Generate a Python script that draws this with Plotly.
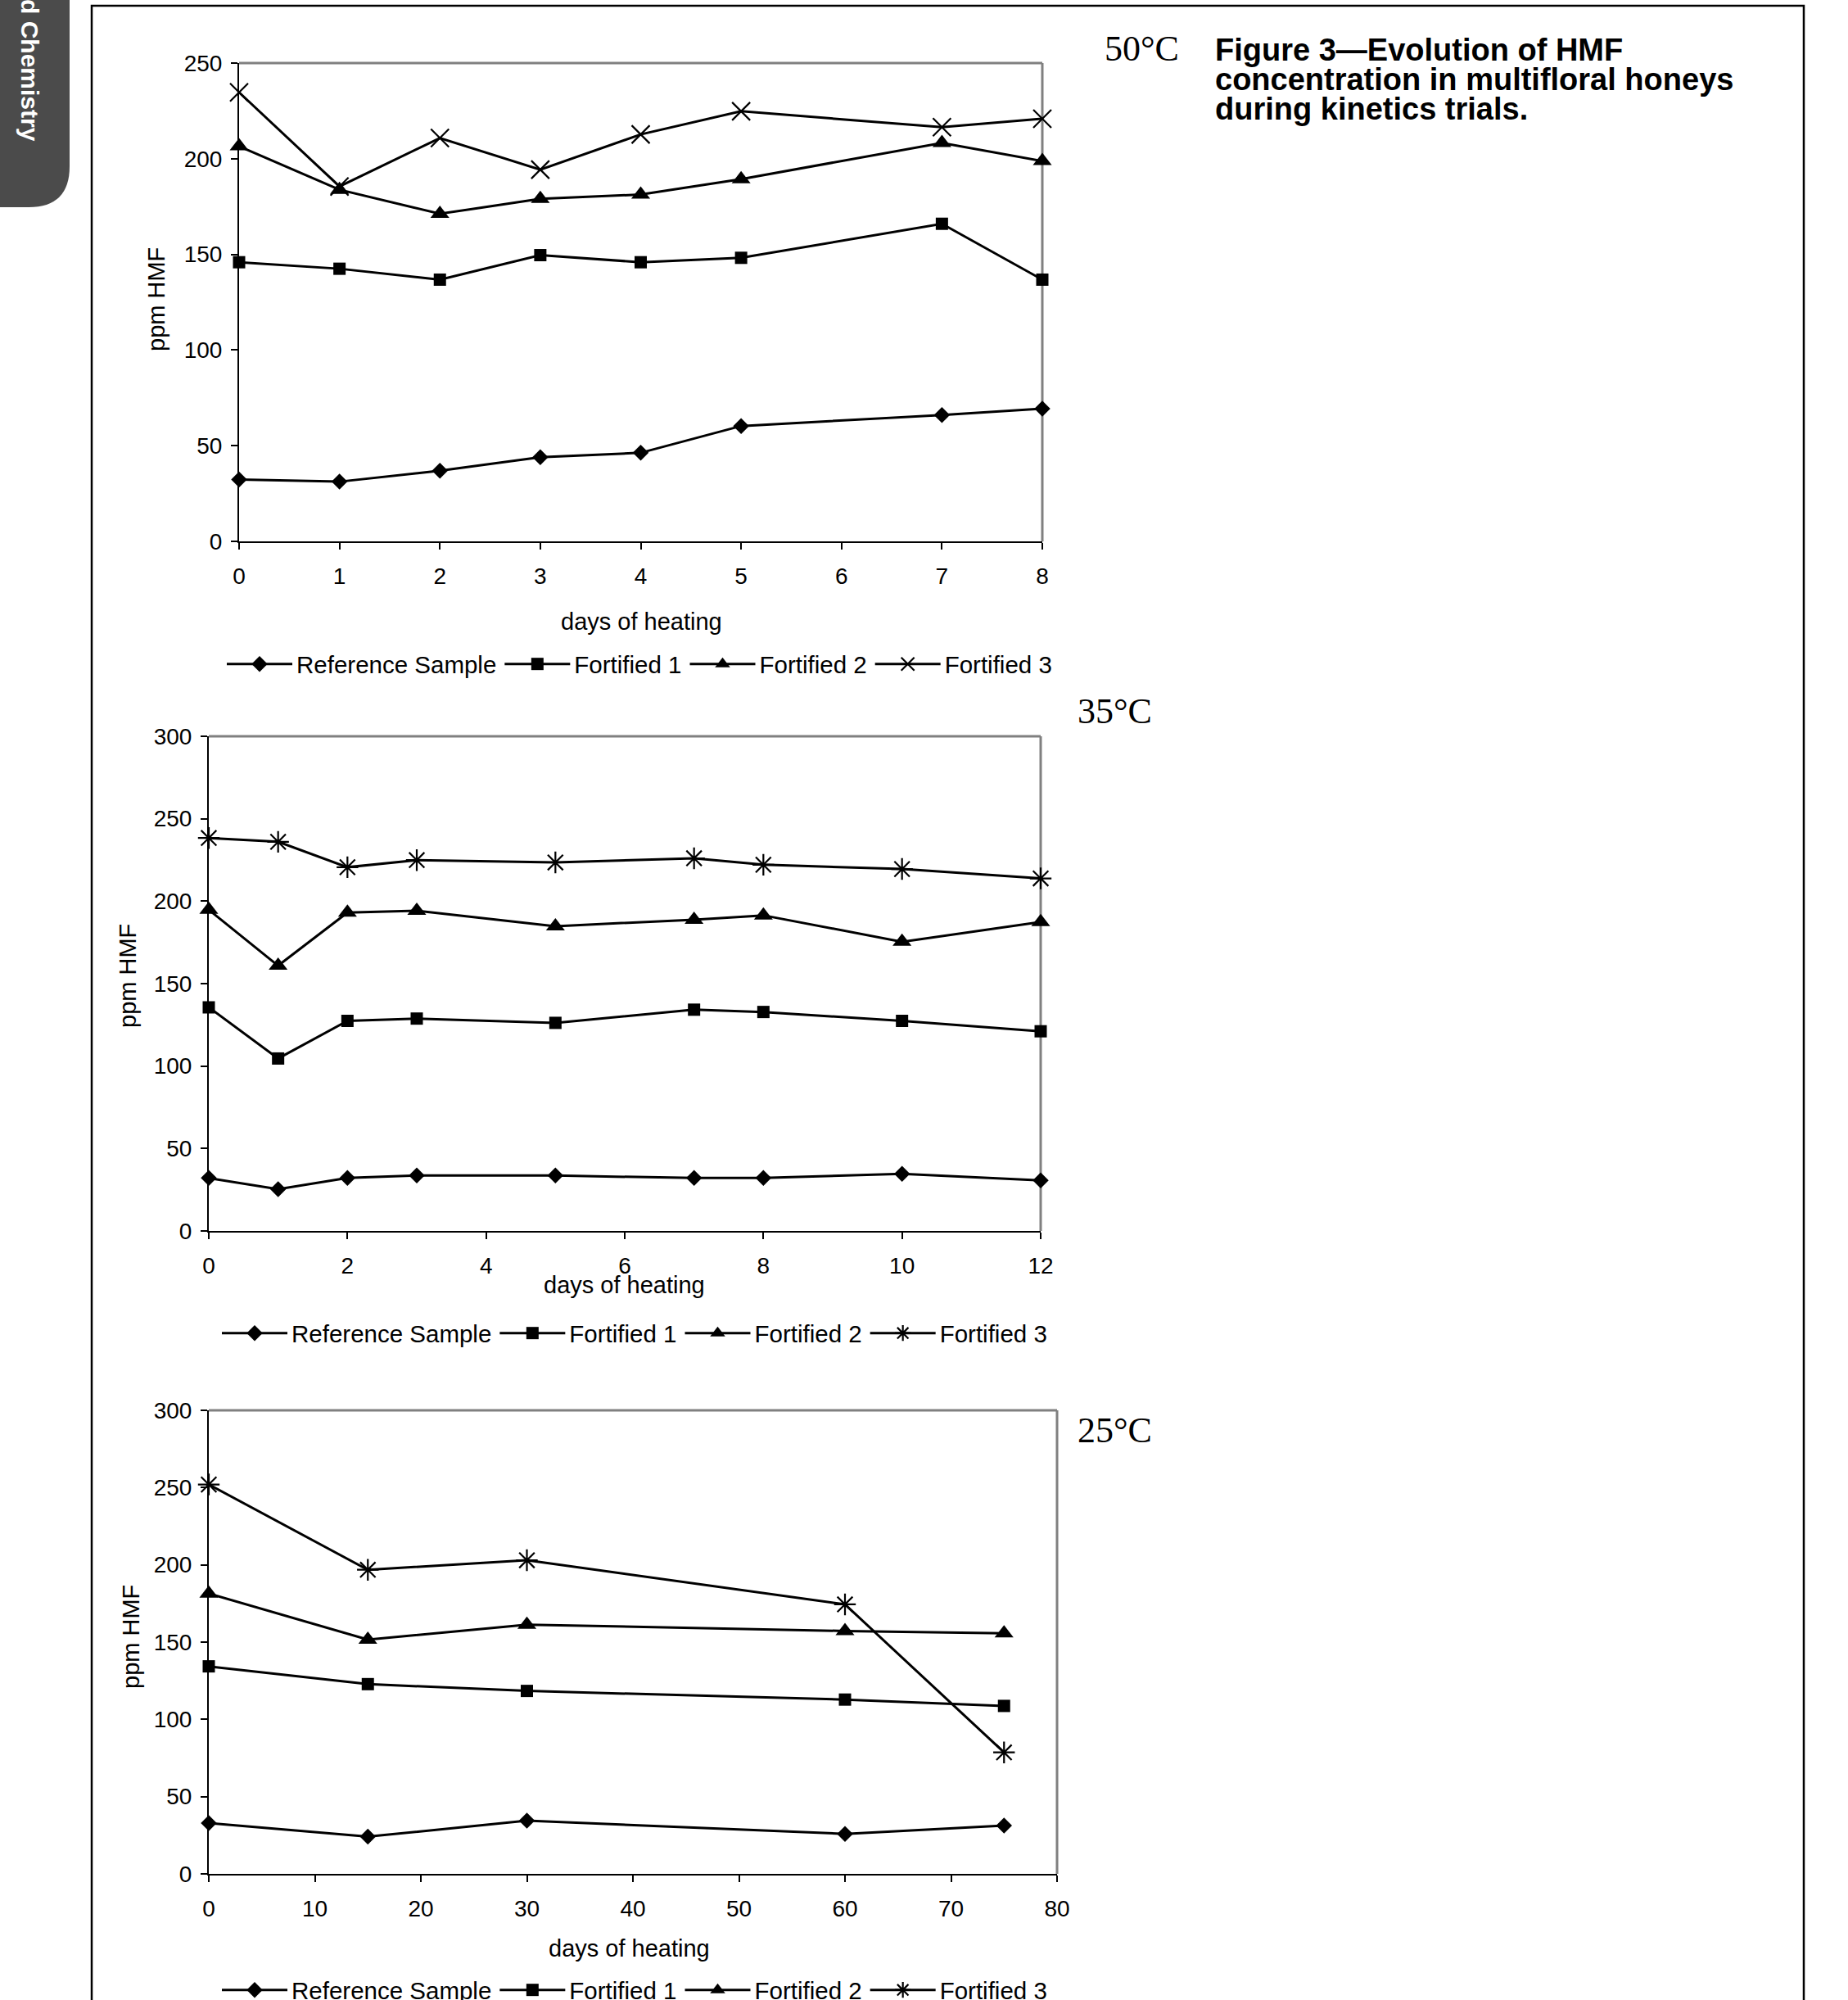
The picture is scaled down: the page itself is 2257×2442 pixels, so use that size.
import plotly.graph_objects as go

W, H = 2257, 2442

# ---------------- data ----------------
series_names = ["Reference Sample", "Fortified 1", "Fortified 2", "Fortified 3"]

days_50 = [0, 1, 2, 3, 4, 5, 7, 8]
ref_50 = [32.3, 31.2, 36.9, 44.0, 46.3, 60.3, 66.0, 69.4]
f1_50 = [145.9, 142.5, 136.8, 149.6, 145.9, 148.2, 166.0, 136.8]
f2_50 = [206.5, 183.8, 171.2, 179.0, 181.3, 189.3, 208.3, 198.8]
f3_50 = [234.7, 185.5, 210.8, 194.3, 212.7, 224.8, 216.5, 220.9]

days_35 = [0, 1, 2, 3, 5, 7, 8, 10, 12]
ref_35 = [32.1, 25.3, 32.1, 33.6, 33.6, 32.1, 32.1, 34.7, 30.7]
f1_35 = [135.6, 104.6, 127.4, 128.8, 126.2, 134.2, 132.8, 127.4, 121.1]
f2_35 = [194.8, 160.9, 193.1, 194.2, 184.8, 188.8, 191.4, 175.4, 187.4]
f3_35 = [238.3, 236.0, 220.6, 224.9, 223.5, 226.0, 222.1, 219.5, 213.8]

days_25 = [0, 15, 30, 60, 75]
ref_25 = [32.9, 24.1, 34.4, 25.9, 31.3]
f1_25 = [134.3, 122.8, 118.4, 112.8, 108.7]
f2_25 = [181.4, 151.6, 161.3, 157.2, 155.7]
f3_25 = [252.0, 196.8, 203.0, 174.4, 78.6]

temperatures = ["50°C", "35°C", "25°C"]
x_title = "days of heating"
y_title = "ppm HMF"
caption_lines = ["Figure 3\u2014Evolution of HMF",
                 "concentration in multifloral honeys",
                 "during kinetics trials."]
tab_text = "d Chemistry"

# ---------------- layout helpers ----------------
FONT = "Liberation Sans, Arial, Helvetica, sans-serif"
SERIF = "Liberation Serif, Times New Roman, serif"


def fx(p):
    return p / W


def fy(p):
    return 1 - p / H


panels = [
    dict(days=days_50, vals=[ref_50, f1_50, f2_50, f3_50], box=(292, 1273, 77, 661),
         xr=[0, 8], xd=1, yr=[0, 250], x3="x-thin-open", x3size=22,
         leg=(272, 811), xt=(783, 759), yt=(191, 366), temp=(1394, 59)),
    dict(days=days_35, vals=[ref_35, f1_35, f2_35, f3_35], box=(255, 1271, 899, 1503),
         xr=[0, 12], xd=2, yr=[0, 300], x3="asterisk-open", x3size=22,
         leg=(266, 1628), xt=(762, 1569), yt=(156, 1192), temp=(1361, 869)),
    dict(days=days_25, vals=[ref_25, f1_25, f2_25, f3_25], box=(255, 1291, 1722, 2288),
         xr=[0, 80], xd=10, yr=[0, 300], x3="asterisk-open", x3size=22,
         leg=(266, 2430), xt=(768, 2379), yt=(160, 1999), temp=(1361, 1746)),
]

fig = go.Figure()
shapes = []
annotations = []
layout_extra = {}

for i, p in enumerate(panels):
    n = "" if i == 0 else str(i + 1)
    leg = "legend" if i == 0 else f"legend{i + 1}"
    x0, x1, y0, y1 = p["box"]
    symbols = ["diamond", "square", "triangle-up", p["x3"]]
    sizes = [15, 15, 20, p["x3size"]]
    for k in range(4):
        open_sym = symbols[k].endswith("open")
        fig.add_trace(go.Scatter(
            x=p["days"], y=p["vals"][k], name=series_names[k],
            mode="lines+markers", xaxis="x" + n, yaxis="y" + n, legend=leg,
            cliponaxis=False,
            line=dict(color="black", width=3),
            marker=dict(symbol=symbols[k], size=sizes[k], color="black",
                        line=dict(color="black", width=2.2 if open_sym else 0)),
        ))
    axis_common = dict(showline=True, linecolor="black", linewidth=2,
                       ticks="outside", ticklen=8, tickwidth=2, tickcolor="black",
                       showgrid=False, zeroline=False, layer="below traces",
                       tickfont=dict(family=FONT, size=28, color="black"))
    layout_extra["xaxis" + n] = dict(
        axis_common, domain=[fx(x0), fx(x1)], range=p["xr"], tick0=0, dtick=p["xd"],
        anchor="y" + n, fixedrange=True, ticklabelstandoff=8)
    layout_extra["yaxis" + n] = dict(
        axis_common, domain=[fy(y1), fy(y0)], range=p["yr"], tick0=0, dtick=50,
        anchor="x" + n, fixedrange=True, ticklabelstandoff=5)
    layout_extra[leg] = dict(
        orientation="h", x=fx(p["leg"][0]), y=fy(p["leg"][1]), xanchor="left",
        yanchor="middle", font=dict(family=FONT, size=29.5, color="black"),
        itemwidth=80, bgcolor="rgba(0,0,0,0)", borderwidth=0, traceorder="normal")
    # grey top / right border of the plot area
    for (a0, b0, a1, b1) in [(0, 1, 1, 1), (1, 0, 1, 1)]:
        shapes.append(dict(type="line", xref=f"x{n} domain", yref=f"y{n} domain",
                           x0=a0, y0=b0, x1=a1, y1=b1, layer="below",
                           line=dict(color="#808080", width=3)))
    annotations.append(dict(text=x_title, x=fx(p["xt"][0]), y=fy(p["xt"][1]),
                            xref="paper", yref="paper", xanchor="center", yanchor="middle",
                            showarrow=False, font=dict(family=FONT, size=29, color="black")))
    annotations.append(dict(text=y_title, x=fx(p["yt"][0]), y=fy(p["yt"][1]),
                            xref="paper", yref="paper", xanchor="center", yanchor="middle",
                            textangle=-90, showarrow=False,
                            font=dict(family=FONT, size=29, color="black")))
    annotations.append(dict(text=temperatures[i], x=fx(p["temp"][0]), y=fy(p["temp"][1]),
                            xref="paper", yref="paper", xanchor="center", yanchor="middle",
                            showarrow=False, font=dict(family=SERIF, size=44, color="black")))

# caption
for j, (line, yc) in enumerate(zip(caption_lines, [61, 97, 133])):
    annotations.append(dict(text=f"<b>{line}</b>", x=fx(1482), y=fy(yc), xref="paper",
                            yref="paper", xanchor="left", yanchor="middle", showarrow=False,
                            font=dict(family=FONT, size=38, color="black")))

# page frame
frame = (f"M {fx(112)},{fy(H + 10)} L {fx(112)},{fy(7)} L {fx(2203)},{fy(7)} "
         f"L {fx(2203)},{fy(H + 10)}")
shapes.append(dict(type="path", xref="paper", yref="paper", path=frame,
                   line=dict(color="black", width=2.5), layer="below"))

# dark journal tab at the top-left
tab = (f"M {fx(0)},{fy(0)} L {fx(85)},{fy(0)} L {fx(85)},{fy(203)} "
       f"Q {fx(85)},{fy(253)} {fx(35)},{fy(253)} L {fx(0)},{fy(253)} Z")
shapes.append(dict(type="path", xref="paper", yref="paper", path=tab,
                   fillcolor="#4b4b4b", line=dict(width=0), layer="below"))
annotations.append(dict(text=f"<b>{tab_text}</b>", x=fx(37), y=fy(86), xref="paper",
                        yref="paper", xanchor="center", yanchor="middle", textangle=90,
                        showarrow=False,
                        font=dict(family=FONT, size=30, color="white")))

fig.update_layout(
    width=W, height=H, autosize=False,
    margin=dict(l=0, r=0, t=0, b=0, pad=0, autoexpand=False),
    paper_bgcolor="white", plot_bgcolor="rgba(0,0,0,0)",
    template="none", showlegend=True,
    shapes=shapes, annotations=annotations,
    **layout_extra,
)

fig.write_html("out.html", config={"displayModeBar": False},
               post_script="document.body.style.margin='0px';document.body.style.overflow='hidden';")
